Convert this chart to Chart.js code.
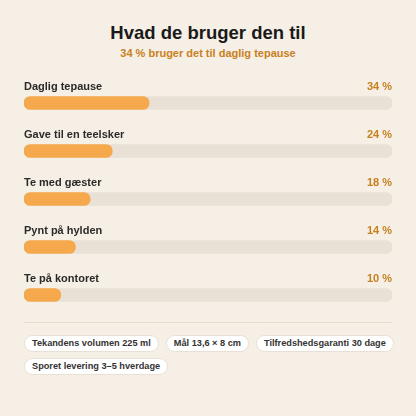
<!DOCTYPE html>
<html>
<head>
<meta charset="utf-8">
<script src="https://cdn.jsdelivr.net/npm/chart.js@4.4.1/dist/chart.umd.min.js"></script>
<style>
    html, body { margin: 0; padding: 0; }
    body {
        width: 416px; height: 416px; background: #f6efe5;
        font-family: "Liberation Sans", Arial, sans-serif; position: relative; overflow: hidden;
    }
    h1 {
        position: absolute; left: 0; right: 0; top: 23px; margin: 0;
        text-align: center; font-size: 18.5px; line-height: 20px; font-weight: bold; color: #1a1a1a;
    }
    .sub {
        position: absolute; left: 0; right: 0; top: 47px;
        text-align: center; font-size: 11px; line-height: 13px; font-weight: bold; color: #c8801f;
    }
    #wrap { position: absolute; left: 24px; top: 70px; width: 368px; height: 250px; }
    .rule { position: absolute; left: 24px; width: 368px; top: 322px; border-top: 1px solid #e6ddd0; }
    .chips { position: absolute; left: 24px; top: 335px; width: 372px; display: flex; flex-wrap: wrap; gap: 6px 7px; }
    .chip {
        background: #fff; border: 1px solid #e8e0d4; border-radius: 9px;
        font-size: 9.2px; font-weight: bold; color: #333; padding: 2px 7px; line-height: 11px;
    }
</style>
</head>
<body>
<h1>Hvad de bruger den til</h1>
<div class="sub">34 % bruger det til daglig tepause</div>
<div id="wrap"><canvas id="useChart"></canvas></div>
<div class="rule"></div>
<div class="chips" id="chips"></div>

<script>
    const categories = ['Daglig tepause', 'Gave til en teelsker', 'Te med gæster', 'Pynt på hylden', 'Te på kontoret'];
    const shares = [34, 24, 18, 14, 10];
    const track = [100, 100, 100, 100, 100];
    const chipTexts = ['Tekandens volumen 225 ml', 'Mål 13,6 × 8 cm', 'Tilfredshedsgaranti 30 dage', 'Sporet levering 3–5 hverdage'];

    chipTexts.forEach(function (t) {
        const el = document.createElement('span');
        el.className = 'chip';
        el.textContent = t;
        document.getElementById('chips').appendChild(el);
    });

    // draw the row label above each bar and the percent at the right
    const rowLabels = {
        id: 'rowLabels',
        afterDatasetsDraw(chart) {
            const ctx = chart.ctx;
            const yScale = chart.scales.y;
            const area = chart.chartArea;
            ctx.save();
            ctx.textBaseline = 'alphabetic';
            ctx.font = 'bold 11px "Liberation Sans", Arial, sans-serif';
            categories.forEach(function (c, i) {
                const y = yScale.getPixelForValue(i) - 13;
                ctx.fillStyle = '#2a2a2a';
                ctx.textAlign = 'left';
                ctx.fillText(c, area.left, y);
                ctx.fillStyle = '#c8801f';
                ctx.textAlign = 'right';
                ctx.fillText(shares[i] + ' %', area.right, y);
            });
            ctx.restore();
        }
    };

    new Chart(document.getElementById('useChart'), {
        type: 'bar',
        data: {
            labels: categories,
            datasets: [{
                data: shares,
                backgroundColor: '#f6a94c',
                barThickness: 13,
                borderRadius: 7,
                borderSkipped: false,
                grouped: false,
                order: 0
            }, {
                data: track,
                backgroundColor: '#e9e1d5',
                barThickness: 13,
                borderRadius: 7,
                borderSkipped: false,
                grouped: false,
                order: 1
            }]
        },
        options: {
            indexAxis: 'y',
            responsive: true,
            maintainAspectRatio: false,
            animation: false,
            layout: { padding: { top: 9, bottom: 1, left: 0, right: 0 } },
            scales: {
                x: { display: false, min: 0, max: 100 },
                y: { display: false }
            },
            plugins: {
                legend: { display: false },
                tooltip: { enabled: false }
            }
        },
        plugins: [rowLabels]
    });
</script>
</body>
</html>
